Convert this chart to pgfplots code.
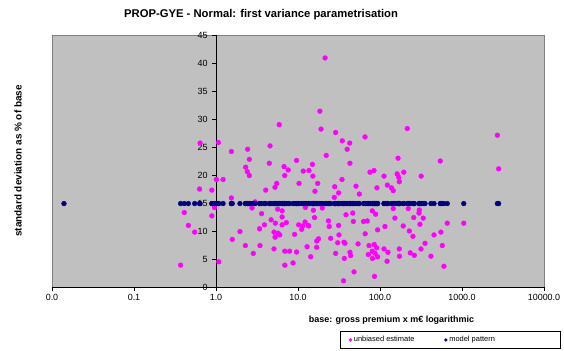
\documentclass[border=0pt]{standalone}
\usepackage{fontspec}
\setmainfont{Liberation Sans}
\usepackage{pgfplots}
\pgfplotsset{compat=1.18}
\usepackage{pgfplotstable}
\definecolor{plotgray}{HTML}{C0C0C0}
\definecolor{framegray}{HTML}{808080}
\definecolor{estpink}{HTML}{FF00FF}
\definecolor{modnavy}{HTML}{000080}

\pgfplotstableread{
x est model
0.014 nan 14.9
0.64 25.7 14.9
1.07 25.8 14.9
1.54 24.2 14.9
2.43 24.6 14.9
2.55 22.8 14.9
2.30 21.4 14.9
2.41 20.6 14.9
2.55 19.9 14.9
5.9 29.0 14.9
4.56 25.2 14.9
4.47 22.1 14.9
6.76 21.5 14.9
6.9 19.9 14.9
1.01 19.2 14.9
1.22 19.2 14.9
0.63 17.5 14.9
0.89 17.3 14.9
4.04 17.3 14.9
5.24 17.8 14.9
5.5 18.5 14.9
9.6 22.6 14.9
7.6 20.9 14.9
10.3 18.5 14.9
1.54 15.9 14.9
0.41 13.3 14.9
0.96 14.2 14.9
2.75 14.1 14.9
3.0 15.2 14.9
3.6 13.1 14.9
5.65 13.9 14.9
6.4 13.6 14.9
0.89 12.7 14.9
4.7 12.0 14.9
6.4 12.5 14.9
5.3 11.4 14.9
7.2 11.5 14.9
3.9 11.1 14.9
6.4 11.1 14.9
13.3 11.0 14.9
0.46 11.0 14.9
3.4 10.4 14.9
0.55 9.8 14.9
1.96 9.9 14.9
5.1 9.8 14.9
5.7 9.6 14.9
5.25 8.9 14.9
6.0 9.3 14.9
9.1 9.4 14.9
1.58 8.5 14.9
2.28 7.4 14.9
3.44 7.4 14.9
5.1 6.8 14.9
2.85 6.0 14.9
6.9 6.4 14.9
7.9 6.4 14.9
9.6 6.25 14.9
8.7 4.3 14.9
6.9 3.9 14.9
0.37 3.9 14.9
1.08 4.5 14.9
18.5 31.4 14.9
19.1 28.2 14.9
28.8 27.6 14.9
65.6 26.8 14.9
34.7 26.1 14.9
42.7 25.7 14.9
39.8 24.6 14.9
22.1 23.5 14.9
15.0 21.9 14.9
43 22.1 14.9
166 23.0 14.9
11.6 20.7 14.9
13.6 20.8 14.9
15.2 19.8 14.9
17.4 18.5 14.9
16.1 17.1 14.9
34.4 19.2 14.9
28 17.9 14.9
31.3 16.8 14.9
51 18.0 14.9
56 16.6 14.9
75.5 20.5 14.9
84.5 20.8 14.9
91.8 17.7 14.9
112 19.8 14.9
123 18.2 14.9
138 17.7 14.9
145 17.2 14.9
162 20.2 14.9
169 19.6 14.9
172 18.8 14.9
27.7 16.0 14.9
12.3 14.2 14.9
15.4 13.7 14.9
19.8 14.1 14.9
15.9 12.4 14.9
12.2 11.6 14.9
10.2 11.1 14.9
11.4 10.9 14.9
11.1 10.3 14.9
13.5 10.9 14.9
14.3 5.4 14.9
12.9 7.2 14.9
16.9 7.1 14.9
16.9 8.2 14.9
17.8 8.6 14.9
25 8.7 14.9
31.6 9.3 14.9
30.5 7.9 14.9
36.4 8.0 14.9
37.4 7.8 14.9
28.8 6.0 14.9
36.7 5.1 14.9
43 6.2 14.9
43.9 5.6 14.9
48.2 2.7 14.9
35.9 1.1 14.9
23.5 11.8 14.9
24 10.8 14.9
31.3 11.0 14.9
38.5 12.9 14.9
46.5 13.2 14.9
47.3 11.7 14.9
54 7.7 14.9
66 9.5 14.9
63 11.7 14.9
70 11.8 14.9
80.5 13.6 14.9
88.5 13.0 14.9
93.5 10.2 14.9
115 10.8 14.9
152 12.3 14.9
145 14.0 14.9
73.5 7.4 14.9
72 5.8 14.9
80.5 6.4 14.9
85 7.6 14.9
91 7.0 14.9
81 5.1 14.9
87 6.0 14.9
93.5 5.4 14.9
85.7 1.9 14.9
112 6.8 14.9
125 6.2 14.9
122 4.6 14.9
172 6.8 14.9
173 5.5 14.9
221 14.0 14.9
302 13.75 14.9
299 13.2 14.9
258 12.4 14.9
337 12.3 14.9
192 10.9 14.9
307 11.2 14.9
661 11.4 14.9
1050 11.4 14.9
228 10.0 14.9
252 9.05 14.9
553 9.8 14.9
456 9.3 14.9
354 7.8 14.9
575 7.4 14.9
316 6.8 14.9
234 6.1 14.9
262 5.65 14.9
418 5.5 14.9
602 3.7 14.9
215 28.3 14.9
2700 27.1 14.9
543 22.5 14.9
2800 21.1 14.9
195 20.5 14.9
318 19.8 14.9
21.4 40.9 14.9
}\datatable

\begin{document}
\begin{tikzpicture}
\path[use as bounding box] (0,0) rectangle (564bp,351bp);
\begin{axis}[
  at={(52bp,64bp)}, anchor=south west,
  scale only axis, width=492bp, height=252bp,
  xmode=log, xmin=0.01, xmax=10000,
  ymin=0, ymax=45,
  axis x line*=bottom, axis y line*=middle,
  axis line style={black, line width=0.7bp},
  axis background/.style={fill=plotgray, draw=framegray, line width=0.8bp},
  xtick={0.01,0.1,1,10,100,1000,10000},
  xticklabels={0.0,0.1,1.0,10.0,100.0,1000.0,10000.0},
  xminorticks=false,
  ytick={0,5,...,45},
  tick style={black, line width=0.6bp},
  major tick length=4bp,
  xtick align=outside, ytick align=outside,
  hide obscured x ticks=false, hide obscured y ticks=false,
  tick label style={font=\fontsize{9}{10}\selectfont},
  yticklabel style={anchor=east, xshift=-1bp},
  /pgf/number format/assume math mode=true,
  title={PROP-GYE - Normal: first variance parametrisation},
  title style={font=\bfseries\fontsize{11.3}{13}\selectfont, at={(axis description cs:0.425,1.083)}, anchor=center, yshift=-6bp},
  ylabel={standard deviation as \% of base},
  ylabel style={font=\bfseries\fontsize{10}{12}\selectfont, at={(axis description cs:-0.069,0.5)}, anchor=center},
  xlabel={base: gross premium x m€ logarithmic},
  xlabel style={font=\bfseries\fontsize{9}{11}\selectfont, at={(axis description cs:0.69,-0.131)}, anchor=center},
  legend columns=2,
  legend style={at={(axis description cs:0.585,-0.21)}, anchor=west, draw=black, fill=white,
    font=\fontsize{7.5}{8.5}\selectfont, line width=0.5bp, inner xsep=9bp, inner ysep=3bp,
    /tikz/every even column/.append style={column sep=28bp}},
  legend image code/.code={\draw[#1, mark size=1.4bp] plot coordinates {(0bp,0bp)};},
]
\addplot[only marks, mark=*, mark size=2.4bp, draw=estpink, fill=estpink] table[x=x, y=est] {\datatable};
\addlegendentry{unbiased estimate}
\addplot[only marks, mark=*, mark size=2.4bp, draw=modnavy, fill=modnavy] table[x=x, y=model] {\datatable};
\addlegendentry{\makebox[100bp][l]{model pattern}}
\end{axis}
\end{tikzpicture}
\end{document}
